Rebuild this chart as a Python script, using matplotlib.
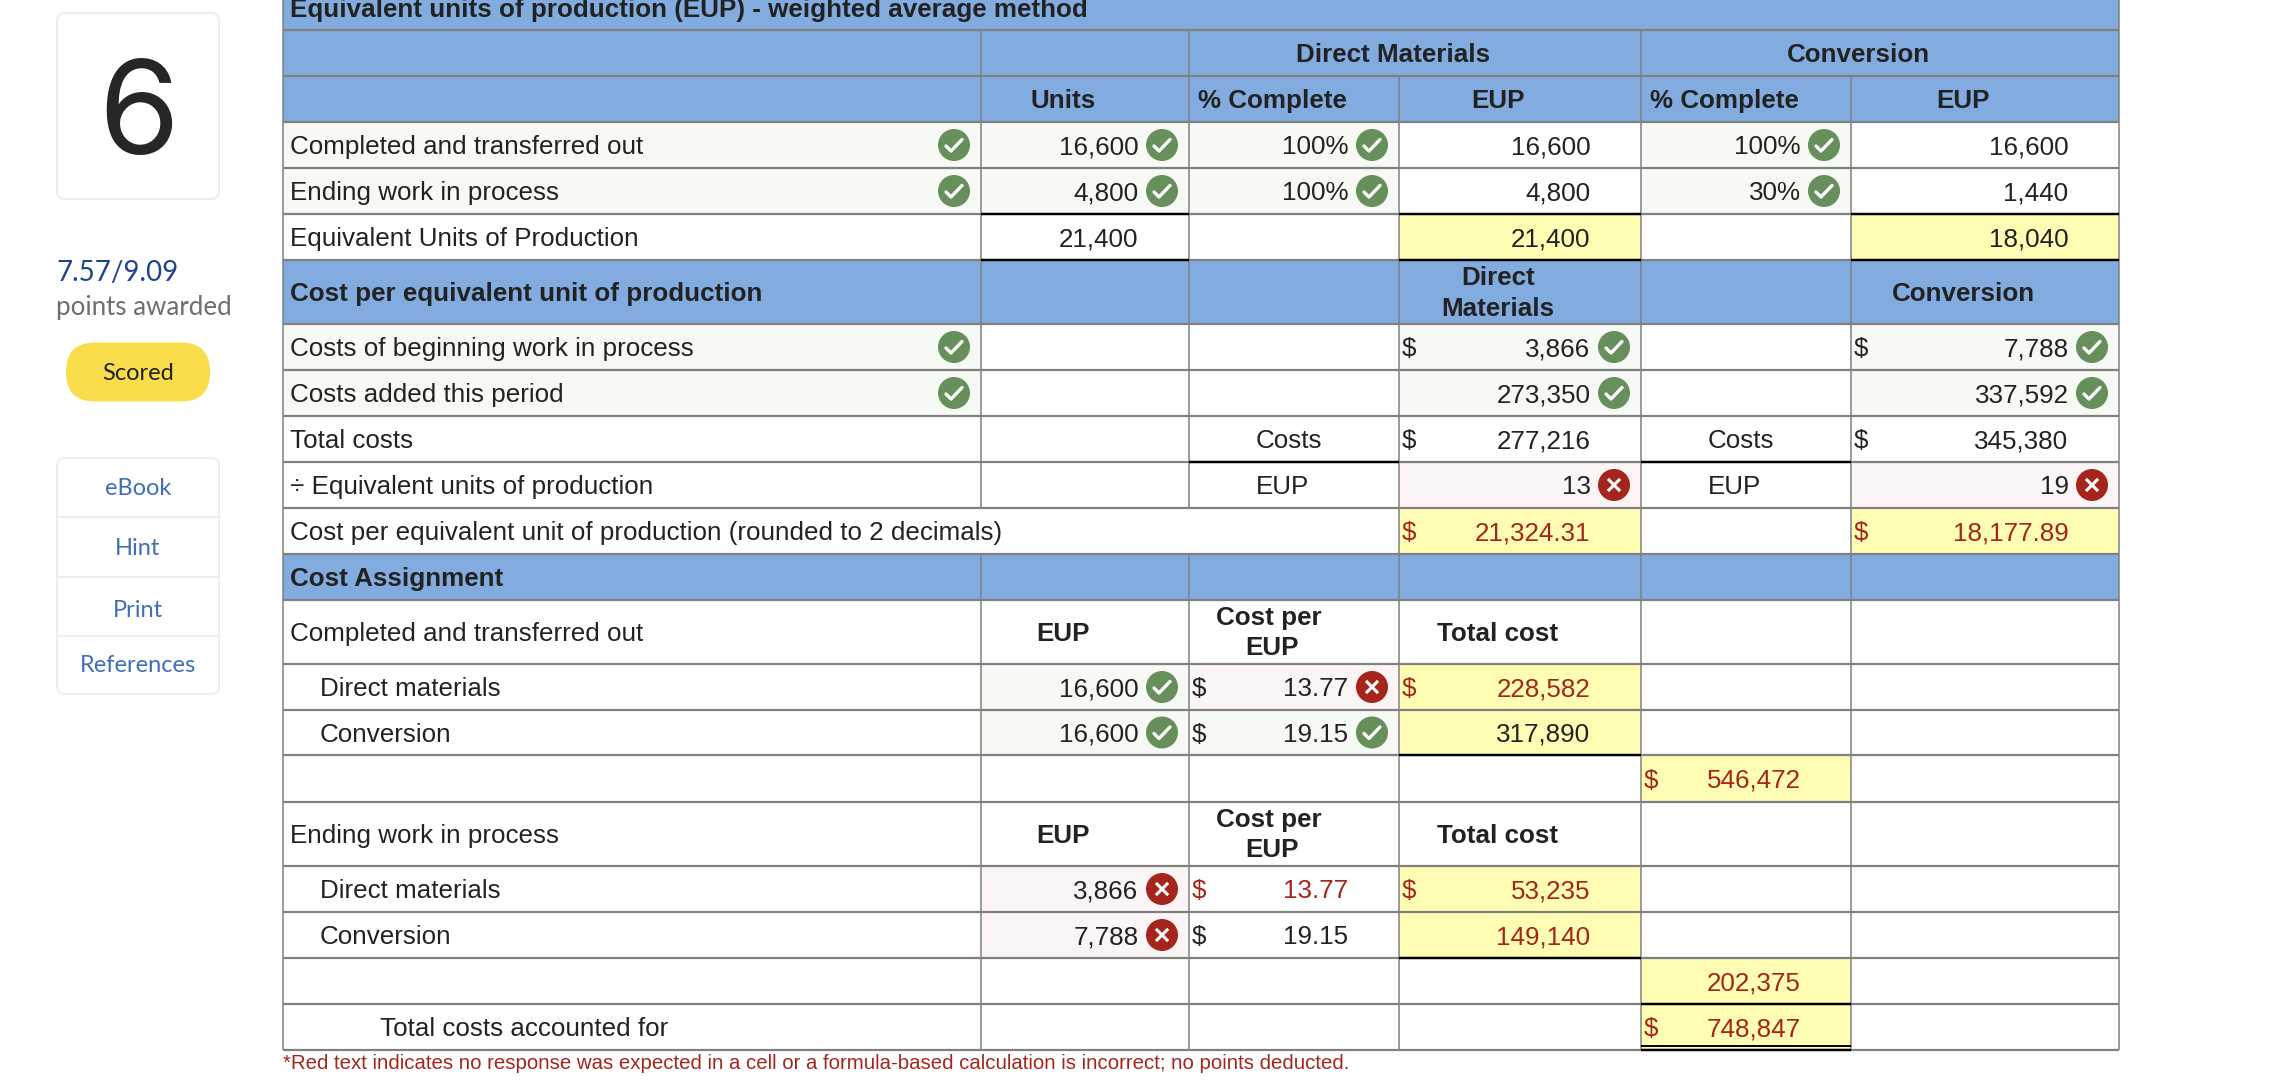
import matplotlib
matplotlib.use("Agg")
import matplotlib.pyplot as plt
from matplotlib.patches import Circle, FancyBboxPatch, Rectangle

# sidebar
question_no = "6"
score = "7.57/9.09"
score_label = "points awarded"
badge = "Scored"
nav_items = ["eBook", "Hint", "Print", "References"]

# table text
title = "Equivalent units of production (EUP) - weighted average method"
eup_rows = ["Completed and transferred out", "Ending work in process", "Equivalent Units of Production"]
units = ["16,600", "4,800", "21,400"]
dm_pct = ["100%", "100%"]
dm_eup = ["16,600", "4,800", "21,400"]
conv_pct = ["100%", "30%"]
conv_eup = ["16,600", "1,440", "18,040"]

cost_rows = ["Costs of beginning work in process", "Costs added this period", "Total costs",
             "\u00f7 Equivalent units of production", "Cost per equivalent unit of production (rounded to 2 decimals)"]
dm_costs = ["3,866", "273,350", "277,216", "13", "21,324.31"]
conv_costs = ["7,788", "337,592", "345,380", "19", "18,177.89"]

assign_labels = ["Direct materials", "Conversion"]
done_eup = ["16,600", "16,600"]
done_rate = ["13.77", "19.15"]
done_total = ["228,582", "317,890"]
done_sum = "546,472"
ending_eup = ["3,866", "7,788"]
ending_rate = ["13.77", "19.15"]
ending_total = ["53,235", "149,140"]
ending_sum = "202,375"
grand_total = "748,847"
footnote = "*Red text indicates no response was expected in a cell or a formula-based calculation is incorrect; no points deducted."

BLUE = "#82abdf"
GREEN_BG = "#f6f9f4"
RED_BG = "#fbf5f5"
YELLOW = "#fefdb3"
GREEN = "#668f5c"
RED = "#a5251c"
DARK = "#222222"
GRID = "#808080"
FONT = "Liberation Sans"
SIZE = 18.7

# cell grid in image pixels
col_x = [283, 981, 1189, 1399, 1641, 1851, 2119]
row_y = [0, 30, 76, 122, 168, 214, 260, 324, 370, 416, 462, 508, 554, 600, 664, 710, 755, 802, 866, 912, 958, 1004, 1050]

fig = plt.figure(figsize=(22.82, 10.88), dpi=100)
ax = fig.add_axes([0, 0, 1, 1])
ax.set_xlim(0, 2282)
ax.set_ylim(1088, 0)
ax.axis("off")


def fill(row, col, color, col_end=None):
    col_end = col + 1 if col_end is None else col_end
    ax.add_patch(Rectangle((col_x[col], row_y[row]), col_x[col_end] - col_x[col],
                           row_y[row + 1] - row_y[row], fc=color, ec="none", zorder=1))


def base(row):
    return (row_y[row] + row_y[row + 1]) / 2 + 9


def label(row, s, x=290, bold=False, color=DARK):
    ax.text(x, base(row), s, fontsize=SIZE, family=FONT, color=color, va="baseline",
            fontweight="bold" if bold else "normal", zorder=4)


def center(row, col, s, bold=True, y=None, col_end=None, shift=0):
    col_end = col + 1 if col_end is None else col_end
    x = (col_x[col] + col_x[col_end]) / 2 - 22 + shift
    ax.text(x, base(row) if y is None else y, s, fontsize=SIZE, family=FONT, color=DARK, ha="center",
            va="baseline", fontweight="bold" if bold else "normal", zorder=4)


def icon(row, col, good=True):
    cx = col_x[col + 1] - 27
    cy = (row_y[row] + row_y[row + 1]) / 2
    ax.add_patch(Circle((cx, cy), 16, fc=GREEN if good else RED, ec="none", zorder=3))
    if good:
        ax.plot([cx - 8, cx - 3, cx + 8], [cy + 1, cy + 6, cy - 5.5], color="white", lw=2.4,
                solid_capstyle="round", solid_joinstyle="round", zorder=4)
    else:
        ax.plot([cx - 5, cx + 5], [cy - 5, cy + 5], color="white", lw=2.2, zorder=4)
        ax.plot([cx - 5, cx + 5], [cy + 5, cy - 5], color="white", lw=2.2, zorder=4)


def num(row, col, s, color=DARK, dollar=False, dollar_color=None, mark=None):
    ax.text(col_x[col + 1] - 50.5, base(row), s, fontsize=SIZE, family=FONT, color=color, ha="right",
            va="baseline", zorder=4)
    if dollar:
        ax.text(col_x[col] + 3, base(row), "$", fontsize=SIZE, family=FONT, va="baseline",
                color=dollar_color or color, zorder=4)
    if mark is not None:
        icon(row, col, mark)


# blue band rows
for r in [0, 1, 2, 6, 12]:
    fill(r, 0, BLUE, 6)

# tinted answer cells
for r in [3, 4]:
    for c in [0, 1, 2, 4]:
        fill(r, c, GREEN_BG)
for r in [7, 8]:
    for c in [0, 3, 5]:
        fill(r, c, GREEN_BG)
for c in [3, 5]:
    fill(5, c, YELLOW)
    fill(10, c, RED_BG)
    fill(11, c, YELLOW)
for r in [14, 15, 18, 19]:
    fill(r, 3, YELLOW)
fill(14, 1, GREEN_BG)
fill(14, 2, RED_BG)
fill(15, 1, GREEN_BG)
fill(15, 2, GREEN_BG)
fill(18, 1, RED_BG)
fill(19, 1, RED_BG)
for r in [16, 20, 21]:
    fill(r, 4, YELLOW)

# grid lines, merged cells have no inner vertical
ax.hlines(row_y[1:], col_x[0], col_x[-1], color=GRID, lw=1.6, zorder=2)
merged = {(1, 3), (1, 5), (11, 1), (11, 2)}
for c in range(len(col_x)):
    for r in range(1, len(row_y) - 1):
        if (r, c) not in merged:
            ax.vlines(col_x[c], row_y[r], row_y[r + 1], color=GRID, lw=1.1, zorder=2)
ax.vlines(col_x[0], row_y[0], row_y[1], color=GRID, lw=1.1, zorder=2)
ax.vlines(col_x[-1], row_y[0], row_y[1], color=GRID, lw=1.1, zorder=2)

# black subtotal rules
for r, c in [(5, 1), (5, 3), (5, 5), (6, 1), (6, 3), (6, 5), (10, 2), (10, 4), (16, 3), (20, 3), (21, 4)]:
    ax.hlines(row_y[r], col_x[c], col_x[c + 1], color="black", lw=1.7, zorder=3)
ax.hlines(row_y[22] - 4, col_x[4], col_x[5], color="black", lw=1.4, zorder=3)
ax.hlines(row_y[22], col_x[4], col_x[5], color="black", lw=1.7, zorder=3)

# header rows
ax.text(290, 17, title, fontsize=SIZE, family=FONT, fontweight="bold", color=DARK, zorder=4)
center(1, 2, "Direct Materials", col_end=4)
center(1, 4, "Conversion", col_end=6)
center(2, 1, "Units")
label(2, "% Complete", x=1198, bold=True)
center(2, 3, "EUP")
label(2, "% Complete", x=1650, bold=True)
center(2, 5, "EUP")

# EUP section
for i, r in enumerate([3, 4, 5]):
    label(r, eup_rows[i])
    num(r, 1, units[i], mark=True if i < 2 else None)
    num(r, 3, dm_eup[i])
    num(r, 5, conv_eup[i])
    if i < 2:
        icon(r, 0)
        num(r, 2, dm_pct[i], mark=True)
        num(r, 4, conv_pct[i], mark=True)

# cost per EUP section
label(6, "Cost per equivalent unit of production", bold=True)
center(6, 3, "Direct", y=285)
center(6, 3, "Materials", y=316)
center(6, 5, "Conversion")
for i, r in enumerate([7, 8, 9, 10, 11]):
    label(r, cost_rows[i])
icon(7, 0)
icon(8, 0)
marks = [True, True, None, False, None]
for i, r in enumerate([7, 8, 9, 10, 11]):
    color = RED if r == 11 else DARK
    dollar = r in (7, 9, 11)
    num(r, 3, dm_costs[i], color=color, dollar=dollar, mark=marks[i])
    num(r, 5, conv_costs[i], color=color, dollar=dollar, mark=marks[i])
for x in [1256, 1708]:
    label(9, "Costs", x=x)
    label(10, "EUP", x=x)

# cost assignment
label(12, "Cost Assignment", bold=True)
for r, s in [(13, eup_rows[0]), (17, eup_rows[1])]:
    label(r, s)
    center(r, 1, "EUP")
    center(r, 2, "Cost per", y=row_y[r] + 25, shift=-3)
    center(r, 2, "EUP", y=row_y[r] + 55)
    center(r, 3, "Total cost")

for i, r in enumerate([14, 15]):
    label(r, assign_labels[i], x=320)
    num(r, 1, done_eup[i], mark=True)
    num(r, 2, done_rate[i], dollar=True, mark=(i == 1))
    num(r, 3, done_total[i], color=RED if i == 0 else DARK, dollar=(i == 0))
num(16, 4, done_sum, color=RED, dollar=True)

for i, r in enumerate([18, 19]):
    label(r, assign_labels[i], x=320)
    num(r, 1, ending_eup[i], mark=False)
    num(r, 2, ending_rate[i], color=RED if i == 0 else DARK, dollar=True)
    num(r, 3, ending_total[i], color=RED, dollar=(i == 0))
num(20, 4, ending_sum, color=RED)
label(21, "Total costs accounted for", x=380)
num(21, 4, grand_total, color=RED, dollar=True)

ax.text(283, 1069, footnote, fontsize=14.7, family=FONT, color=RED)


# sidebar
def round_box(x0, y0, x1, y1):
    ax.add_patch(FancyBboxPatch((x0 + 8, y0 + 8), x1 - x0 - 16, y1 - y0 - 16,
                                boxstyle="round,pad=8,rounding_size=8", fc="white", ec="#eeeeee", lw=1.5))


round_box(57, 13, 219, 199)
ax.text(139, 154, question_no, fontsize=94, family="Inter", color="#262626", ha="center", va="baseline")
ax.text(56, 281, score, fontsize=20, family="Lato", color="#1f4586", va="baseline")
ax.text(56, 315, score_label, fontsize=18.6, family="Lato", color="#6e6e6e", va="baseline")
ax.add_patch(FancyBboxPatch((95, 371.5), 86, 1, boxstyle="round,pad=29,rounding_size=29", fc="#f9dd4a", ec="none"))
ax.text(138, 380, badge, fontsize=17, family="Lato", color="#222222", ha="center", va="baseline")

round_box(57, 458, 219, 694)
for y in [517, 577, 636]:
    ax.hlines(y, 57, 219, color="#eeeeee", lw=1.5)
for s, y in zip(nav_items, [495, 555, 617, 672]):
    ax.text(138, y, s, fontsize=17, family="Lato", color="#3f6fb5", ha="center", va="baseline")

fig.savefig("out.png", dpi=100)
